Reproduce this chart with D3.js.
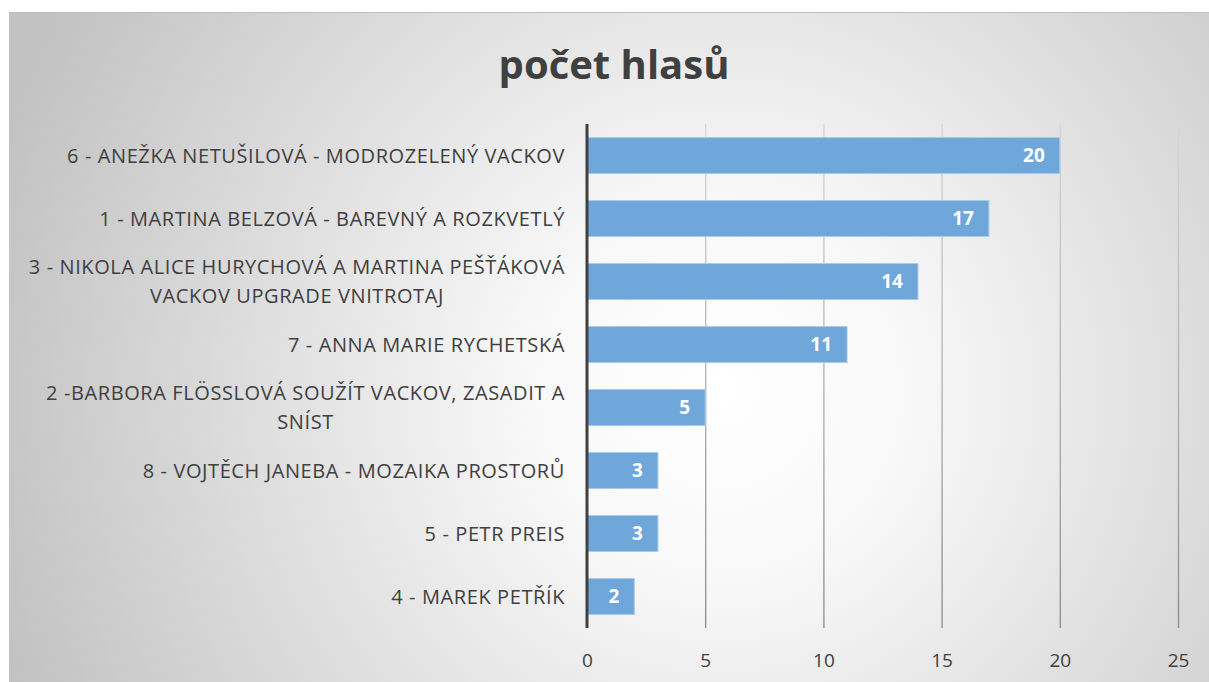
<!DOCTYPE html>
<html>
<head>
<meta charset="utf-8">
<script src="https://cdn.jsdelivr.net/npm/d3@7"></script>
<style>
  body { margin: 0; background: #fff; }
  svg { display: block; }
</style>
</head>
<body>
<svg></svg>
<script>
// data
const categories = [
  "6 - ANEŽKA NETUŠILOVÁ - MODROZELENÝ VACKOV",
  "1 - MARTINA BELZOVÁ - BAREVNÝ A ROZKVETLÝ",
  "3 - NIKOLA ALICE HURYCHOVÁ A MARTINA PEŠŤÁKOVÁ\nVACKOV UPGRADE VNITROTAJ",
  "7 - ANNA MARIE RYCHETSKÁ",
  "2 -BARBORA FLÖSSLOVÁ SOUŽÍT VACKOV, ZASADIT A\nSNÍST",
  "8 - VOJTĚCH JANEBA - MOZAIKA PROSTORŮ",
  "5 - PETR PREIS",
  "4 - MAREK PETŘÍK"
];
const votes = [20, 17, 14, 11, 5, 3, 3, 2];
const xTicks = [0, 5, 10, 15, 20, 25];
const title = "počet hlasů";

const W = 1209, H = 682;
const font = "'Open Sans', sans-serif";

const svg = d3.select('svg')
  .attr('width', W)
  .attr('height', H);

const margin = {top: 124, left: 587, right: 31, bottom: 54};
const plotH = H - margin.bottom - margin.top;

const defs = svg.append('defs');
const bg = defs.append('radialGradient')
  .attr('id', 'bg')
  .attr('gradientUnits', 'userSpaceOnUse')
  .attr('cx', 720).attr('cy', 390).attr('r', 760);
bg.append('stop').attr('offset', '0%').attr('stop-color', '#ffffff');
bg.append('stop').attr('offset', '25%').attr('stop-color', '#f8f8f8');
bg.append('stop').attr('offset', '100%').attr('stop-color', '#c2c2c2');

// gridline gradient, in the tick group's local coords (y from -plotH to 0)
const gridGrad = defs.append('linearGradient')
  .attr('id', 'gridg')
  .attr('gradientUnits', 'userSpaceOnUse')
  .attr('x1', 0).attr('y1', -plotH).attr('x2', 0).attr('y2', 0);
gridGrad.append('stop').attr('offset', '0%').attr('stop-color', '#d6d6d6');
gridGrad.append('stop').attr('offset', '100%').attr('stop-color', '#8a8a8a');

// chart area
svg.append('rect')
  .attr('x', 9).attr('y', 12)
  .attr('width', W - 9).attr('height', H - 12)
  .attr('fill', 'url(#bg)');
svg.append('line')
  .attr('x1', 9).attr('x2', W).attr('y1', 12.5).attr('y2', 12.5)
  .attr('stroke', '#bdbdbd');

const xScale = d3.scaleLinear()
  .domain([0, 25])
  .range([margin.left, W - margin.right]);

const yScale = d3.scaleBand()
  .domain(categories)
  .range([margin.top, H - margin.bottom])
  .paddingInner(0.43)
  .paddingOuter(0.215);

// gridlines + tick labels
const xAxis = d3.axisBottom(xScale)
  .tickValues(xTicks)
  .tickSize(-plotH)
  .tickPadding(26);

const gx = svg.append('g')
  .attr('transform', `translate(0,${H - margin.bottom})`)
  .call(xAxis);
gx.select('.domain').remove();
gx.selectAll('.tick line')
  .attr('stroke', 'url(#gridg)')
  .attr('stroke-width', 1.3)
  .filter(d => d === 0).remove();
gx.selectAll('.tick text')
  .attr('font-family', font)
  .attr('font-size', 19)
  .attr('fill', '#404040');

// bars
svg.append('g').selectAll('rect')
  .data(votes)
  .join('rect')
    .attr('x', xScale(0))
    .attr('y', (d, i) => yScale(categories[i]))
    .attr('width', d => xScale(d) - xScale(0))
    .attr('height', yScale.bandwidth())
    .attr('fill', '#6fa7db')
    .attr('stroke', '#a9cbeb')
    .attr('stroke-width', 1);

// value labels
svg.append('g').selectAll('text')
  .data(votes)
  .join('text')
    .attr('x', d => xScale(d) - 15)
    .attr('y', (d, i) => yScale(categories[i]) + yScale.bandwidth() / 2)
    .attr('dy', '0.36em')
    .attr('text-anchor', 'end')
    .attr('font-family', font)
    .attr('font-weight', 'bold')
    .attr('font-size', 19)
    .attr('fill', '#ffffff')
    .text(d => d);

// y axis line
svg.append('line')
  .attr('x1', xScale(0)).attr('x2', xScale(0))
  .attr('y1', margin.top).attr('y2', H - margin.bottom)
  .attr('stroke', '#404040')
  .attr('stroke-width', 3);

// category labels
const labelRight = 565;
const lineH = 29;
const lab = svg.append('g');
categories.forEach(c => {
  const lines = c.split('\n');
  const cy = yScale(c) + yScale.bandwidth() / 2;
  const t = lab.append('text')
    .attr('font-family', font)
    .attr('font-size', 20)
    .attr('letter-spacing', 0.6)
    .attr('fill', '#404040');
  const spans = lines.map((l, j) => t.append('tspan')
    .attr('y', cy + (j - (lines.length - 1) / 2) * lineH)
    .attr('dy', '0.36em')
    .text(l));
  if (lines.length === 1) {
    t.attr('text-anchor', 'end');
    spans[0].attr('x', labelRight);
  } else {
    const maxW = d3.max(spans, s => s.node().getComputedTextLength());
    t.attr('text-anchor', 'middle');
    spans.forEach(s => s.attr('x', labelRight - maxW / 2));
  }
});

// title
svg.append('text')
  .attr('x', 614)
  .attr('y', 79)
  .attr('text-anchor', 'middle')
  .attr('font-family', font)
  .attr('font-weight', 'bold')
  .attr('font-size', 40)
  .attr('fill', '#404040')
  .text(title);
</script>
</body>
</html>
